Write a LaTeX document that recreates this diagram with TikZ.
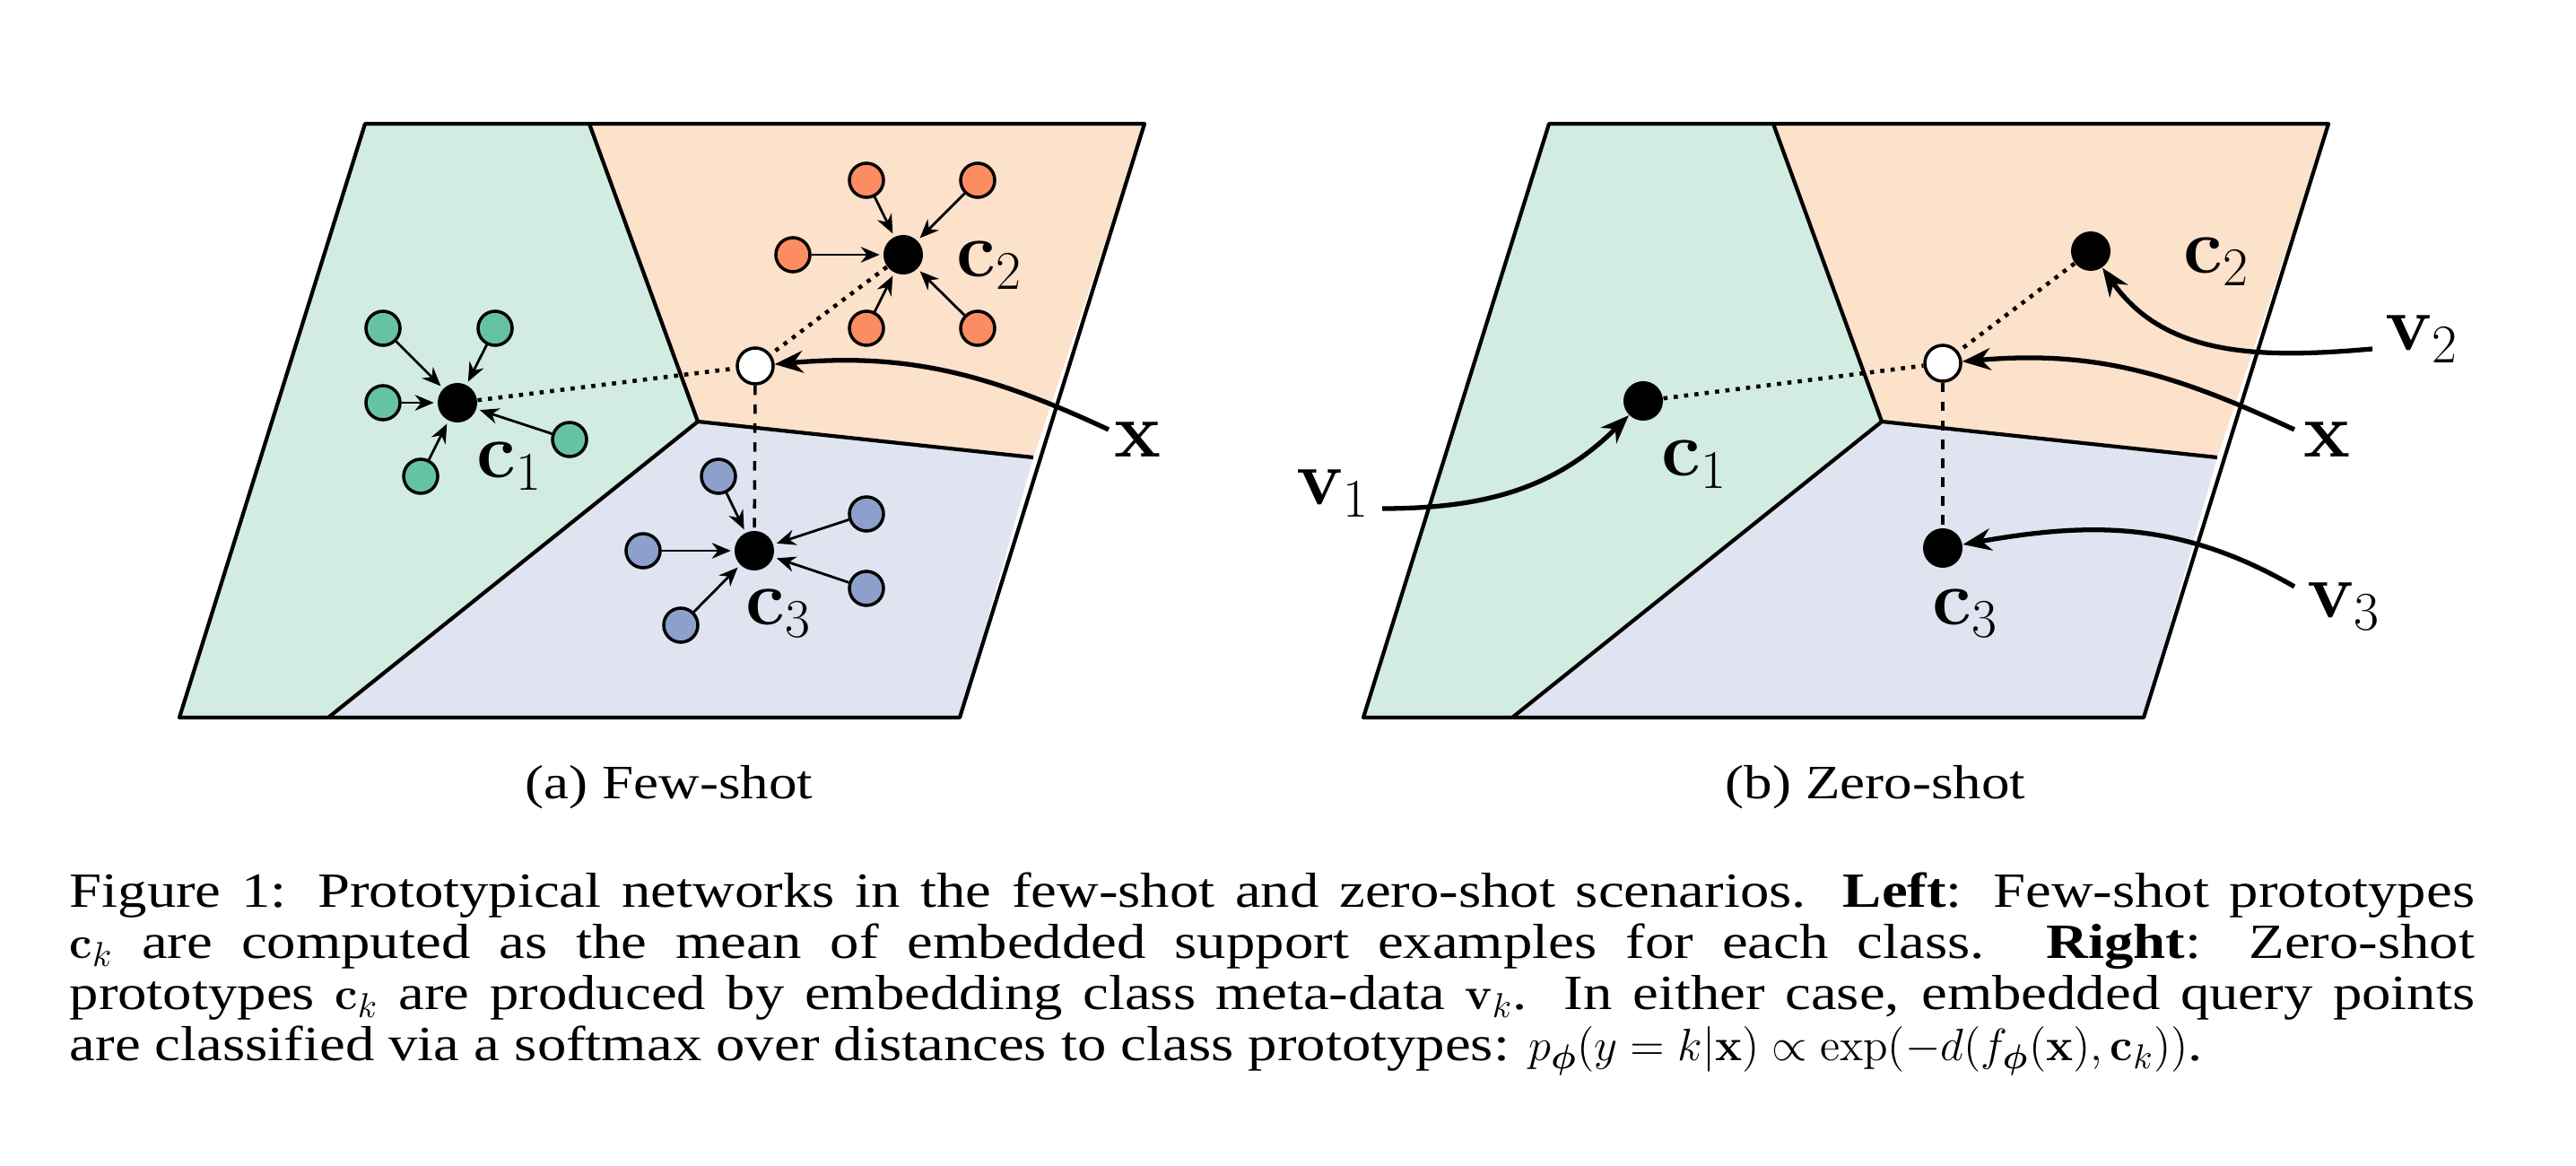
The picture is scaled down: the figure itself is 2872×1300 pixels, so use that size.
\documentclass[tikz,border=0pt]{standalone}
\usepackage[no-math]{fontspec}
\setmainfont{Liberation Serif}
\newfontfamily\capfont{Liberation Serif}[FakeStretch=1.18]
\usepackage{bm}
\usetikzlibrary{arrows.meta}
\definecolor{greenreg}{HTML}{D2ECE1}
\definecolor{orangereg}{HTML}{FCE1CB}
\definecolor{bluereg}{HTML}{DFE4F0}
\definecolor{greenpt}{HTML}{66C2A5}
\definecolor{orangept}{HTML}{FC8D62}
\definecolor{bluept}{HTML}{8DA0CB}
\begin{document}
\begin{tikzpicture}[
  x=0.01cm, y=-0.01cm,
  boundary/.style={line width=1.2pt, line join=round},
  support/.style={circle, draw, line width=1pt, minimum size=0.38cm, inner sep=0pt},
  proto/.style={circle, fill=black, minimum size=0.44cm, inner sep=0pt},
  query/.style={circle, draw, fill=white, line width=1pt, minimum size=0.4cm, inner sep=0pt},
  label/.style={font=\fontsize{26}{30}\selectfont},
  sub/.style={font=\capfont\fontsize{15.2}{18}\selectfont},
  pull/.style={-{Stealth[length=6pt,width=5pt]}, line width=0.8pt, shorten >=1pt},
  pointer/.style={-{Stealth[length=9pt,width=7pt]}, line width=1.5pt},
  link/.style={dotted, line width=1.3pt},
  drop/.style={dash pattern=on 3pt off 3pt, line width=1pt}
]
  \useasboundingbox (0,0) rectangle (2872,1300);

  % the two embedding spaces, split into three class regions
  \foreach \dx in {0,1320}{
    \begin{scope}[shift={(\dx,0)}]
      \fill[greenreg] (407,138) -- (657,138) -- (778,470) -- (366,800) -- (200,800) -- cycle;
      \fill[orangereg] (657,138) -- (1276,138) -- (1152,510) -- (778,470) -- cycle;
      \fill[bluereg] (778,470) -- (1152,510) -- (1070,800) -- (366,800) -- cycle;
      \draw[boundary] (407,138) -- (1276,138) -- (1070,800) -- (200,800) -- cycle;
      \draw[boundary] (657,138) -- (778,470) -- (1152,510);
      \draw[boundary] (778,470) -- (366,800);
    \end{scope}
  }

  % (a) few-shot
  \node[proto] (c1) at (510,449) {};
  \node[proto] (c2) at (1007,284) {};
  \node[proto] (c3) at (841,614) {};
  \node[query] (x) at (842,408) {};

  \foreach \n/\p in {g1/{(427,366)}, g2/{(552,366)}, g3/{(427,449)}, g4/{(635,490)}, g5/{(469,531)}}
    \node[support, fill=greenpt] (\n) at \p {};
  \foreach \n/\p in {o1/{(966,201)}, o2/{(1090,201)}, o3/{(884,284)}, o4/{(966,366)}, o5/{(1090,366)}}
    \node[support, fill=orangept] (\n) at \p {};
  \foreach \n/\p in {b1/{(801,531)}, b2/{(966,573)}, b3/{(717,614)}, b4/{(966,656)}, b5/{(759,697)}}
    \node[support, fill=bluept] (\n) at \p {};

  \foreach \i in {1,...,5}{
    \draw[pull] (g\i) -- (c1);
    \draw[pull] (o\i) -- (c2);
    \draw[pull] (b\i) -- (c3);
  }

  \draw[link] (c1) -- (x);
  \draw[link] (c2) -- (x);
  \draw[drop] (x) -- (c3);

  \node[label] (lc1) at (568,520) {$\mathbf{c}_1$};
  \node[label] (lc2) at (1103,296) {$\mathbf{c}_2$};
  \node[label] (lc3) at (868,684) {$\mathbf{c}_3$};
  \node[label] (lx) at (1268,490) {$\mathbf{x}$};
  \coordinate (xtail) at (1236,479);
  \draw[pointer] (xtail) to[out=155,in=5] (x);

  \node[sub] (capa) at (746,878) {(a) Few-shot};

  % (b) zero-shot
  \node[proto] (z1) at (1832,447) {};
  \node[proto] (z2) at (2331,280) {};
  \node[proto] (z3) at (2166,611) {};
  \node[query] (zx) at (2166,405) {};

  \draw[link] (z1) -- (zx);
  \draw[link] (z2) -- (zx);
  \draw[drop] (zx) -- (z3);

  \node[label] (lz1) at (1889,518) {$\mathbf{c}_1$};
  \node[label] (lz2) at (2471,292) {$\mathbf{c}_2$};
  \node[label] (lz3) at (2191,684) {$\mathbf{c}_3$};
  \node[label] (lzx) at (2594,490) {$\mathbf{x}$};
  \node[label] (v1) at (1486,550) {$\mathbf{v}_1$};
  \node[label] (v2) at (2700,378) {$\mathbf{v}_2$};
  \node[label] (v3) at (2613,676) {$\mathbf{v}_3$};

  \coordinate (v1tail) at (1541,567);
  \coordinate (v2tail) at (2645,389);
  \coordinate (v3tail) at (2558,654);
  \coordinate (zxtail) at (2558,479);
  \draw[pointer] (v1tail) to[out=0,in=225] (z1);
  \draw[pointer] (v2tail) to[out=185,in=-55] (z2);
  \draw[pointer] (v3tail) to[out=150,in=10] (z3);
  \draw[pointer] (zxtail) to[out=155,in=5] (zx);

  \node[sub] (capb) at (2091,878) {(b) Zero-shot};

  % figure caption
  \node[anchor=north west, text width=26.8cm, align=justify, inner sep=0pt,
        font=\capfont\fontsize{15.6}{16.2}\selectfont] (cap) at (77,972) {%
    Figure 1: Prototypical networks in the few-shot and zero-shot scenarios. \textbf{Left}: Few-shot prototypes\linebreak
    $\mathbf{c}_k$ are computed as the mean of embedded support examples for each class. \textbf{Right}: Zero-shot\linebreak
    prototypes $\mathbf{c}_k$ are produced by embedding class meta-data $\mathbf{v}_k$. In either case, embedded query points\linebreak
    are classified via a softmax over distances to class prototypes: $p_{\bm{\phi}}(y=k|\mathbf{x})\propto\exp(-d(f_{\bm{\phi}}(\mathbf{x}),\mathbf{c}_k))$.};
\end{tikzpicture}
\end{document}
